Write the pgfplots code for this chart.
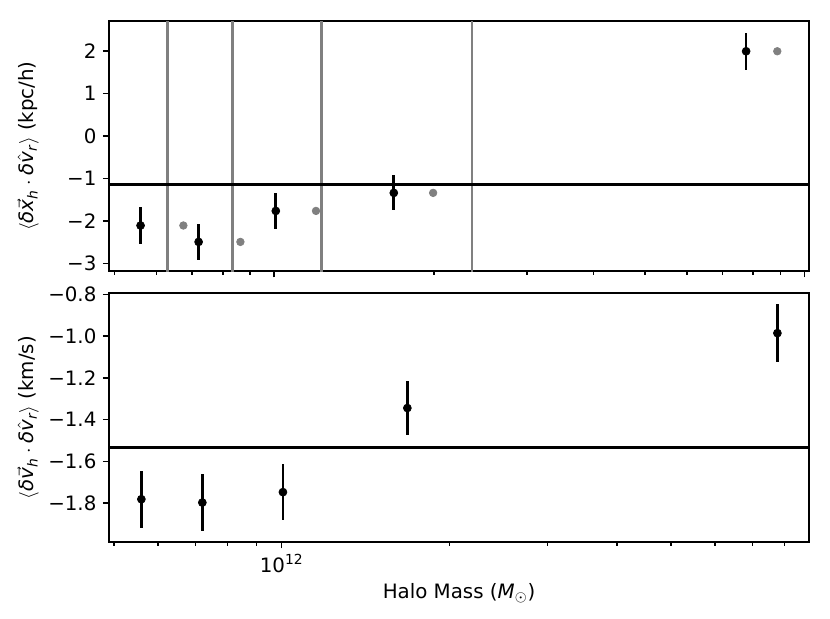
\documentclass[border=0pt]{standalone}
\usepackage{fontspec}
\setmainfont{DejaVu Sans}
\usepackage{amsmath}
\usepackage{pgfplots}
\usepackage{pgfplotstable}
\pgfplotsset{compat=1.18}
\newcommand{\mi}[1]{\text{\itshape #1}}
\definecolor{mgray}{HTML}{808080}

\pgfplotstableread{
x y ey
5.598e11 -2.108 0.43
7.203e11 -2.494 0.415
1.007e12 -1.765 0.42
1.681e12 -1.341 0.41
7.762e12 1.99 0.44
}\topdata
\pgfplotstableread{
x y
6.742e11 -2.108
8.636e11 -2.494
1.199e12 -1.765
1.994e12 -1.341
8.886e12 1.99
}\greydata
\pgfplotstableread{
x y ey
5.598e11 -1.782 0.1375
7.203e11 -1.798 0.137
1.005e12 -1.748 0.135
1.681e12 -1.345 0.13
7.762e12 -0.986 0.139
}\botdata

\pgfplotsset{
  myaxisstyle/.style={
    scale only axis, width=388.6pt,
    axis line style={line width=0.8pt},
    tick style={black, line width=0.8pt},
    tick align=outside,
    major tick length=3.5pt, minor tick length=2pt,
    xtick pos=bottom, ytick pos=left,
    tick label style={font=\fontsize{11}{13}\selectfont},
    label style={font=\fontsize{11}{13}\selectfont},
    ylabel style={at={(axis description cs:-0.1157,0.5)}, anchor=center},
  },
}

\begin{document}
\begin{tikzpicture}
\begin{semilogxaxis}[myaxisstyle,
  at={(0,150.4pt)}, anchor=south west, height=138.8pt,
  xmin=4.882e11, xmax=1.0198e13,
  ymin=-3.18, ymax=2.70,
  xtick={1e12,1e13}, xticklabels={},
  minor xtick={5e11,6e11,7e11,8e11,9e11,2e12,3e12,4e12,5e12,6e12,7e12,8e12,9e12},
  ytick={-3,-2,-1,0,1,2},
  yticklabels={−3,−2,−1,0,1,2},
  ylabel={$\langle \mi{δ}\vec{\mi{x}}_{\mi{h}} \cdot \mi{δ}\hat{\mi{v}}_{\mi{r}}\rangle$ (kpc/h)},
]
\addplot[mgray, line width=1.6pt] coordinates {(6.29e11,-5) (6.29e11,5)};
\addplot[mgray, line width=1.6pt] coordinates {(8.34e11,-5) (8.34e11,5)};
\addplot[mgray, line width=1.6pt] coordinates {(1.23e12,-5) (1.23e12,5)};
\addplot[mgray, line width=1.6pt] coordinates {(2.36e12,-5) (2.36e12,5)};
\addplot[black, line width=1.7pt] coordinates {(1e11,-1.136) (1e14,-1.136)};
\addplot[black, only marks, mark=*, mark size=2.2pt,
  error bars/.cd, y dir=both, y explicit, error mark=none,
  error bar style={line width=1.5pt, black}]
  table[x=x, y=y, y error=ey] {\topdata};
\addplot[only marks, mark=*, mark size=2.1pt, mgray] table[x=x, y=y] {\greydata};
\end{semilogxaxis}

\begin{semilogxaxis}[myaxisstyle,
  at={(0,0)}, anchor=south west, height=138.2pt,
  xmin=4.898e11, xmax=8.845e12,
  ymin=-1.987, ymax=-0.794,
  xtick={1e12}, xticklabels={10\textsuperscript{12}},
  minor xtick={5e11,6e11,7e11,8e11,9e11,2e12,3e12,4e12,5e12,6e12,7e12,8e12},
  ytick={-1.8,-1.6,-1.4,-1.2,-1.0,-0.8},
  yticklabels={−1.8,−1.6,−1.4,−1.2,−1.0,−0.8},
  ylabel={$\langle \mi{δ}\vec{\mi{v}}_{\mi{h}} \cdot \mi{δ}\hat{\mi{v}}_{\mi{r}}\rangle$ (km/s)},
  xlabel={Halo Mass ($\mi{M}_{\odot}$)},
  xlabel style={at={(axis description cs:0.5,-0.205)}, anchor=center},
]
\addplot[black, line width=1.7pt] coordinates {(1e11,-1.532) (1e14,-1.532)};
\addplot[black, only marks, mark=*, mark size=2.2pt,
  error bars/.cd, y dir=both, y explicit, error mark=none,
  error bar style={line width=1.5pt, black}]
  table[x=x, y=y, y error=ey] {\botdata};
\end{semilogxaxis}
\pgfresetboundingbox
\path (-60.5pt,-42.7pt) rectangle (400.3pt,300.9pt);
\end{tikzpicture}
\end{document}
